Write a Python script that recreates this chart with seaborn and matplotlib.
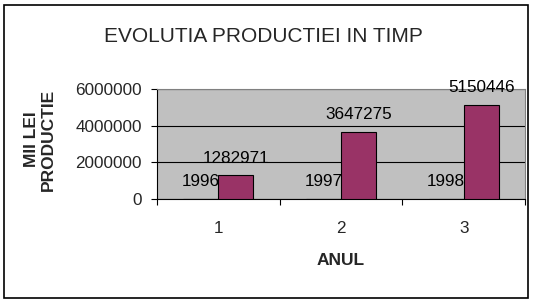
import numpy as np
import pandas as pd
import matplotlib
matplotlib.use("Agg")
import matplotlib.pyplot as plt
import seaborn as sns
from matplotlib.patches import Rectangle

# ---- data ----
anul = ["1", "2", "3"]
ani = [1996, 1997, 1998]
productie = [1282971, 3647275, 5150446]
yticks = [0, 2000000, 4000000, 6000000]
title = "EVOLUTIA PRODUCTIEI IN TIMP"
ylabel = "MII LEI\nPRODUCTIE"
xlabel = "ANUL"

df = pd.DataFrame({
    "anul": anul * 2,
    "valoare": ani + productie,
    "serie": ["an"] * 3 + ["productie"] * 3,
})

sns.set_theme(style="white")
plt.rcParams["font.family"] = ["Liberation Sans", "DejaVu Sans"]

fig = plt.figure(figsize=(5.38, 3.03), dpi=100)
ax = fig.add_axes([157/538, 104/303, (525-157)/538, 110/303])

sns.barplot(data=df, x="anul", y="valoare", hue="serie",
            palette=["#9999FF", "#993366"], saturation=1,
            edgecolor="black", linewidth=0.8,
            width=0.57, gap=0, legend=False, ax=ax, zorder=3)

ax.set_facecolor("#C0C0C0")
ax.set_xlim(-0.5, 2.5)
ax.set_ylim(0, 6000000)
ax.set_yticks(yticks)
ax.set_yticklabels([f"{v:d}" for v in yticks], fontsize=12.3)
ax.yaxis.grid(True, color="black", linewidth=0.8, zorder=0)
ax.set_axisbelow(True)

for c in ax.containers:
    ax.bar_label(c, fmt="%d", padding=7, fontsize=12.3, color="black")

ax.set_xticks([0, 1, 2])
ax.set_xticklabels(anul, fontsize=12.3)
ax.set_xticks([-0.5, 0.5, 1.5, 2.5], minor=True)
ax.tick_params(axis="x", which="major", length=0, pad=16)
ax.tick_params(axis="x", which="minor", length=4.3, width=0.8, color="black",
               direction="out", bottom=True)
ax.tick_params(axis="y", which="major", length=4.3, width=0.8, color="black",
               direction="out", left=True, pad=6.5)

for s in ["left", "bottom"]:
    ax.spines[s].set_color("black")
    ax.spines[s].set_linewidth(0.8)
for s in ["top", "right"]:
    ax.spines[s].set_color("#808080")
    ax.spines[s].set_linewidth(0.8)

ax.set_xlabel(xlabel, fontsize=12.5, fontweight="bold", labelpad=12)
ax.set_ylabel(ylabel, fontsize=12.5, fontweight="bold", linespacing=1.15)
ax.yaxis.set_label_coords(-0.275, 0.54)

fig.text(263.5/538, 1 - 42/303, title, fontsize=15, ha="center", va="baseline")

fig.patches.append(Rectangle((4/538, 5/303), (528-4)/538, (298-5)/303,
                             transform=fig.transFigure, fill=False,
                             edgecolor="black", linewidth=1.2))

fig.savefig("out.png", dpi=100, facecolor="white")
